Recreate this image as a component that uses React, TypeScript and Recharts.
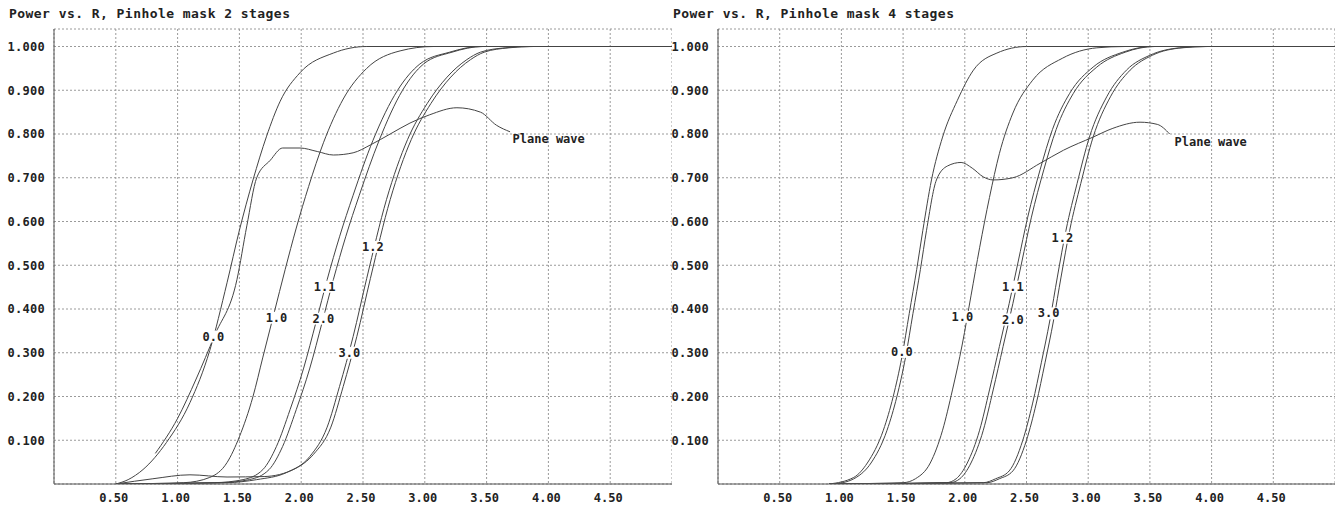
import React from "react";
import { LineChart, Line, XAxis, YAxis, CartesianGrid, ReferenceDot } from "recharts";

type P = { x: number; y: number };
const pts = (a: number[][]): P[] => a.map(([x, y]) => ({ x, y }));

const X_TICKS = [0.5, 1, 1.5, 2, 2.5, 3, 3.5, 4, 4.5];
const Y_TICKS = [0.1, 0.2, 0.3, 0.4, 0.5, 0.6, 0.7, 0.8, 0.9, 1.0];

// ---- Left: Pinhole mask 2 stages ----
const L_00 = [[0.5,0],[0.6,0.01],[0.72,0.033],[0.91,0.095],[1.1,0.186],[1.26,0.305],[1.4,0.46],[1.5,0.58],[1.61,0.695],[1.72,0.795],[1.83,0.875],[1.99,0.94],[2.26,0.985],[2.53,1],[5,1]];
const L_PW = [[0.82,0.07],[1.0,0.15],[1.15,0.24],[1.3,0.34],[1.48,0.467],[1.56,0.59],[1.64,0.7],[1.75,0.74],[1.85,0.768],[1.99,0.768],[2.13,0.76],[2.26,0.752],[2.42,0.757],[2.56,0.775],[2.72,0.8],[2.88,0.825],[3.04,0.844],[3.26,0.86],[3.45,0.85],[3.58,0.82],[3.69,0.805]];
const L_10 = [[0.5,0],[1.05,0.003],[1.26,0.015],[1.4,0.049],[1.5,0.108],[1.61,0.2],[1.69,0.29],[1.78,0.39],[1.87,0.49],[1.96,0.585],[2.06,0.68],[2.18,0.78],[2.34,0.88],[2.53,0.95],[2.8,0.99],[3.07,1],[5,1]];
const L_11 = [[0.5,0],[1.3,0.003],[1.53,0.01],[1.69,0.033],[1.8,0.086],[1.91,0.17],[2.02,0.265],[2.12,0.37],[2.21,0.467],[2.31,0.565],[2.42,0.66],[2.58,0.785],[2.78,0.9],[2.96,0.96],[3.2,0.987],[3.45,1],[5,1]];
const L_20 = [[0.5,0],[1.35,0.003],[1.58,0.01],[1.74,0.033],[1.85,0.086],[1.96,0.17],[2.07,0.265],[2.17,0.37],[2.26,0.467],[2.36,0.565],[2.47,0.66],[2.63,0.785],[2.82,0.9],[2.99,0.96],[3.22,0.987],[3.47,1],[5,1]];
const L_12 = [[0.5,0],[1.4,0.003],[1.64,0.01],[1.88,0.026],[2.07,0.063],[2.21,0.13],[2.31,0.223],[2.42,0.337],[2.53,0.47],[2.69,0.65],[2.86,0.787],[3.02,0.87],[3.18,0.93],[3.34,0.97],[3.45,0.987],[3.65,0.997],[3.85,1],[5,1]];
const L_30 = [[0.5,0],[0.8,0.012],[1.1,0.021],[1.4,0.016],[1.7,0.017],[1.95,0.035],[2.1,0.068],[2.24,0.13],[2.34,0.223],[2.45,0.337],[2.56,0.47],[2.72,0.65],[2.89,0.787],[3.05,0.87],[3.21,0.93],[3.37,0.97],[3.48,0.987],[3.68,0.997],[3.88,1],[5,1]];

// ---- Right: Pinhole mask 4 stages ----
const R_00 = [[0.9,0],[1.1,0.015],[1.21,0.048],[1.34,0.123],[1.42,0.2],[1.49,0.29],[1.55,0.39],[1.61,0.49],[1.66,0.58],[1.73,0.695],[1.82,0.793],[1.94,0.877],[2.07,0.946],[2.26,0.985],[2.5,1],[5,1]];
const R_PW = [[0.95,0],[1.12,0.015],[1.24,0.048],[1.37,0.123],[1.45,0.2],[1.52,0.29],[1.58,0.39],[1.64,0.49],[1.69,0.58],[1.77,0.695],[1.86,0.727],[1.97,0.735],[2.06,0.722],[2.15,0.702],[2.23,0.695],[2.39,0.7],[2.61,0.733],[2.8,0.763],[3.04,0.793],[3.2,0.813],[3.42,0.827],[3.56,0.822],[3.66,0.8]];
const R_10 = [[0.9,0],[1.5,0.003],[1.6,0.012],[1.72,0.048],[1.82,0.123],[1.9,0.215],[1.98,0.32],[2.05,0.43],[2.12,0.54],[2.2,0.655],[2.28,0.755],[2.39,0.848],[2.55,0.923],[2.79,0.973],[3.07,0.997],[3.3,1],[5,1]];
const R_11 = [[0.9,0],[1.85,0.003],[1.93,0.012],[2.02,0.048],[2.12,0.123],[2.2,0.215],[2.28,0.314],[2.36,0.413],[2.43,0.505],[2.51,0.61],[2.61,0.718],[2.71,0.81],[2.85,0.893],[3.04,0.953],[3.28,0.987],[3.52,1],[5,1]];
const R_20 = [[0.9,0],[1.88,0.003],[1.96,0.012],[2.05,0.048],[2.15,0.123],[2.23,0.215],[2.31,0.314],[2.39,0.413],[2.46,0.505],[2.54,0.61],[2.64,0.718],[2.74,0.81],[2.88,0.893],[3.07,0.953],[3.3,0.987],[3.54,1],[5,1]];
const R_12 = [[0.9,0],[2.15,0.003],[2.25,0.012],[2.36,0.03],[2.47,0.1],[2.55,0.185],[2.62,0.277],[2.69,0.375],[2.75,0.473],[2.82,0.58],[2.91,0.687],[3.01,0.793],[3.15,0.885],[3.31,0.946],[3.5,0.98],[3.74,0.997],[3.95,1],[5,1]];
const R_30 = [[0.9,0],[2.18,0.003],[2.28,0.012],[2.39,0.03],[2.5,0.1],[2.58,0.185],[2.65,0.277],[2.72,0.375],[2.78,0.473],[2.85,0.58],[2.94,0.687],[3.04,0.793],[3.18,0.885],[3.34,0.946],[3.52,0.98],[3.76,0.997],[3.97,1],[5,1]];

// labels: [text, x, y]
const L_LABELS: [string, number, number][] = [["0.0",1.29,0.337],["1.0",1.8,0.38],["1.1",2.19,0.451],["2.0",2.18,0.378],["1.2",2.58,0.542],["3.0",2.39,0.3]];
const R_LABELS: [string, number, number][] = [["0.0",1.49,0.302],["1.0",1.98,0.382],["1.1",2.39,0.451],["2.0",2.39,0.376],["1.2",2.79,0.563],["3.0",2.68,0.39]];
const L_PW_LABEL: [string, number, number] = ["Plane wave", 3.71, 0.789];
const R_PW_LABEL: [string, number, number] = ["Plane wave", 3.7, 0.782];

const MONO = "'DejaVu Sans Mono', 'Liberation Mono', monospace";
const INK = "#222";

const makeLabelShape = (text: string, anchor: "middle" | "start") => (p: any) => {
  const w = text.length * 7.4 + 2;
  const cx = p.cx, cy = p.cy;
  const rx = anchor === "middle" ? cx - w / 2 : cx - 1;
  return (
    <g>
      {anchor === "middle" && <rect x={rx} y={cy - 6} width={w} height={12} fill="#fff" />}
      <text x={cx} y={cy + 4} textAnchor={anchor} fontFamily={MONO} fontWeight="bold" fontSize={12} fill={INK}>
        {text}
      </text>
    </g>
  );
};

type ChartProps = {
  title: string;
  width: number;
  series: number[][][];
  labels: [string, number, number][];
  pwLabel: [string, number, number];
};

function Panel({ title, width, series, labels, pwLabel }: ChartProps) {
  return (
    <div style={{ position: "relative", width, height: 506 }}>
      <LineChart width={width} height={506} margin={{ top: 29, right: 0, bottom: 0, left: 0 }}>
        <CartesianGrid stroke="#9a9a9a" strokeDasharray="2 2" />
        <XAxis
          type="number"
          dataKey="x"
          domain={[0, 5]}
          ticks={X_TICKS}
          allowDataOverflow
          height={22}
          tickLine={false}
          tickMargin={3}
          axisLine={{ stroke: "#555" }}
          tickFormatter={(v: number) => v.toFixed(2)}
          tick={{ fontSize: 12, fontFamily: MONO, fontWeight: "bold", fill: INK, dx: -2 }}
        />
        <YAxis
          type="number"
          domain={[0, 1.04]}
          ticks={Y_TICKS}
          allowDataOverflow
          width={54}
          tickLine={false}
          tickMargin={3}
          axisLine={{ stroke: "#555" }}
          tickFormatter={(v: number) => v.toFixed(3)}
          tick={{ fontSize: 12, fontFamily: MONO, fontWeight: "bold", fill: INK, letterSpacing: 0.3 } as any}
        />
        {series.map((s, i) => (
          <Line
            key={i}
            data={pts(s)}
            dataKey="y"
            type="monotone"
            stroke="#444"
            strokeWidth={1}
            dot={false}
            activeDot={false}
            isAnimationActive={false}
          />
        ))}
        {labels.map(([t, x, y], i) => (
          <ReferenceDot key={i} x={x} y={y} r={0} ifOverflow="visible" shape={makeLabelShape(t, "middle")} />
        ))}
        <ReferenceDot x={pwLabel[1]} y={pwLabel[2]} r={0} ifOverflow="visible" shape={makeLabelShape(pwLabel[0], "start")} />
      </LineChart>
      <div
        style={{
          position: "absolute",
          left: 9,
          top: 6,
          fontFamily: MONO,
          fontWeight: "bold",
          fontSize: 13,
          lineHeight: "15px",
          letterSpacing: 0.45,
          color: INK,
          whiteSpace: "nowrap",
        }}
      >
        {title}
      </div>
    </div>
  );
}

export default function App() {
  return (
    <div style={{ position: "absolute", left: 0, top: 0, width: 1335, height: 506, background: "#fff", overflow: "hidden" }}>
      <div style={{ position: "absolute", left: 0, top: 0 }}>
        <Panel
          title="Power vs. R, Pinhole mask 2 stages"
          width={672}
          series={[L_00, L_PW, L_10, L_11, L_20, L_12, L_30]}
          labels={L_LABELS}
          pwLabel={L_PW_LABEL}
        />
      </div>
      <div style={{ position: "absolute", left: 664, top: 0 }}>
        <Panel
          title="Power vs. R, Pinhole mask 4 stages"
          width={671}
          series={[R_00, R_PW, R_10, R_11, R_20, R_12, R_30]}
          labels={R_LABELS}
          pwLabel={R_PW_LABEL}
        />
      </div>
    </div>
  );
}
